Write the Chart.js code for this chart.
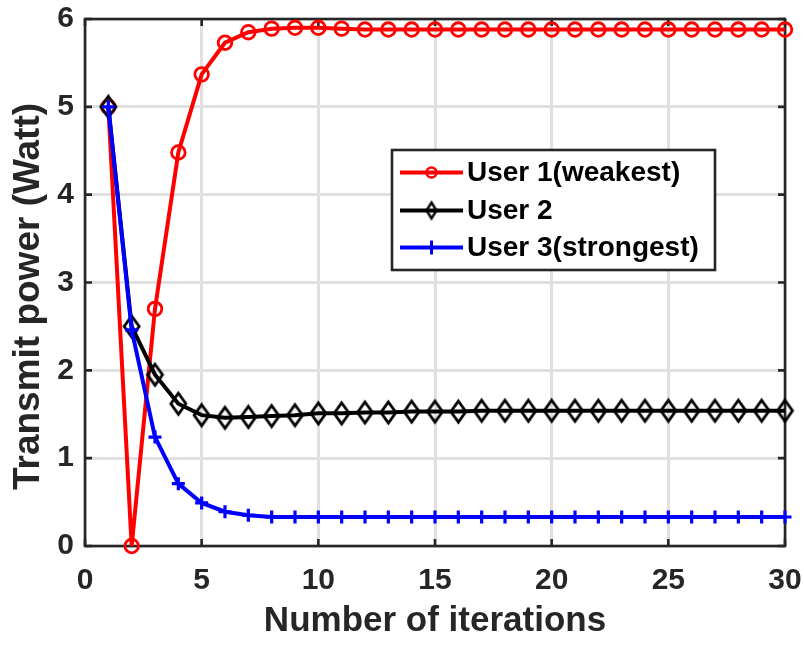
<!DOCTYPE html>
<html>
<head>
<meta charset="utf-8">
<script src="https://cdn.jsdelivr.net/npm/chart.js@4.4.1/dist/chart.umd.min.js"></script>
<style>
  html, body { margin: 0; padding: 0; background: #ffffff; }
  #wrap { width: 804px; height: 645px; }
</style>
</head>
<body>
<div id="wrap"><canvas id="c" width="804" height="645"></canvas></div>
<script>
// Transmit power per user over the iterations of the power-allocation algorithm
const iterations = Array.from({ length: 30 }, (_, i) => i + 1);

const user1Power = [5.00, 0.00, 2.70, 4.48, 5.37, 5.73, 5.85, 5.89, 5.90, 5.90,
                    5.89, 5.88, 5.88, 5.88, 5.88, 5.88, 5.88, 5.88, 5.88, 5.88,
                    5.88, 5.88, 5.88, 5.88, 5.88, 5.88, 5.88, 5.88, 5.88, 5.88];
const user2Power = [5.00, 2.50, 1.95, 1.62, 1.49, 1.46, 1.47, 1.48, 1.49, 1.51,
                    1.51, 1.52, 1.52, 1.53, 1.53, 1.53, 1.54, 1.54, 1.54, 1.54,
                    1.54, 1.54, 1.54, 1.54, 1.54, 1.54, 1.54, 1.54, 1.54, 1.54];
const user3Power = [5.00, 2.46, 1.24, 0.71, 0.49, 0.39, 0.35, 0.33, 0.33, 0.33,
                    0.33, 0.33, 0.33, 0.33, 0.33, 0.33, 0.33, 0.33, 0.33, 0.33,
                    0.33, 0.33, 0.33, 0.33, 0.33, 0.33, 0.33, 0.33, 0.33, 0.33];

const seriesLabels = ['User 1(weakest)', 'User 2', 'User 3(strongest)'];
const xTicks = [0, 5, 10, 15, 20, 25, 30];
const yTicks = [0, 1, 2, 3, 4, 5, 6];
const xTitle = 'Number of iterations';
const yTitle = 'Transmit power (Watt)';

const FONT = '"Liberation Sans", Arial, Helvetica, sans-serif';
const AXIS_COLOR = '#262626';
const GRID_COLOR = '#e0e0e0';

// Tall open diamond marker
function makeDiamond(w, h, lw) {
  const c = document.createElement('canvas');
  const pad = Math.ceil(lw);
  c.width = w + pad * 2;
  c.height = h + pad * 2;
  const g = c.getContext('2d');
  g.strokeStyle = '#000000';
  g.lineWidth = lw;
  g.lineJoin = 'miter';
  const cx = c.width / 2, cy = c.height / 2;
  g.beginPath();
  g.moveTo(cx, cy - h / 2);
  g.lineTo(cx + w / 2, cy);
  g.lineTo(cx, cy + h / 2);
  g.lineTo(cx - w / 2, cy);
  g.closePath();
  g.stroke();
  return c;
}
const diamond = makeDiamond(15, 21, 2.8);
const diamondSmall = makeDiamond(10, 16, 2.4);

const toXY = ys => iterations.map((x, i) => ({ x, y: ys[i] }));

// Box round the axes with inward tick marks on all four sides, plus the y-axis title
const axesBox = {
  id: 'axesBox',
  beforeDatasetsDraw(chart) {
    const { ctx, chartArea: a, scales } = chart;
    ctx.save();
    ctx.strokeStyle = AXIS_COLOR;
    ctx.lineWidth = 2.6;
    const tl = 7;
    ctx.beginPath();
    xTicks.forEach(v => {
      const px = scales.x.getPixelForValue(v);
      ctx.moveTo(px, a.bottom); ctx.lineTo(px, a.bottom - tl);
      ctx.moveTo(px, a.top); ctx.lineTo(px, a.top + tl);
    });
    yTicks.forEach(v => {
      const py = scales.y.getPixelForValue(v);
      ctx.moveTo(a.left, py); ctx.lineTo(a.left + tl, py);
      ctx.moveTo(a.right, py); ctx.lineTo(a.right - tl, py);
    });
    ctx.stroke();
    ctx.lineJoin = 'miter';
    ctx.strokeRect(a.left, a.top, a.right - a.left, a.bottom - a.top);

    // vertical axis title
    ctx.translate(28.5, (a.top + a.bottom) / 2 + 14);
    ctx.rotate(-Math.PI / 2);
    ctx.fillStyle = AXIS_COLOR;
    ctx.font = 'bold 37px ' + FONT;
    ctx.textAlign = 'center';
    ctx.textBaseline = 'middle';
    ctx.fillText(yTitle, 0, 0);
    ctx.restore();
  }
};

// Boxed legend inside the plot
const boxLegend = {
  id: 'boxLegend',
  afterDatasetsDraw(chart) {
    const { ctx, chartArea: a } = chart;
    const bx = a.left + 307, by = a.top + 131, bw = 323, bh = 120;
    ctx.save();
    ctx.fillStyle = '#ffffff';
    ctx.fillRect(bx, by, bw, bh);
    ctx.strokeStyle = AXIS_COLOR;
    ctx.lineWidth = 2.6;
    ctx.strokeRect(bx, by, bw, bh);
    const rowY = [by + 22.5, by + 60.5, by + 97.5];
    chart.data.datasets.forEach((ds, i) => {
      const y = rowY[i];
      const x0 = bx + 8, x1 = bx + 71, xm = (x0 + x1) / 2;
      ctx.strokeStyle = ds.borderColor;
      ctx.lineWidth = ds.borderWidth;
      ctx.beginPath(); ctx.moveTo(x0, y); ctx.lineTo(x1, y); ctx.stroke();
      ctx.lineWidth = 2.4;
      if (ds.pointStyle === 'circle') {
        ctx.beginPath(); ctx.arc(xm, y, 5, 0, Math.PI * 2); ctx.stroke();
      } else if (ds.pointStyle === 'cross') {
        ctx.lineWidth = 3;
        ctx.beginPath(); ctx.moveTo(xm, y - 7); ctx.lineTo(xm, y + 7);
        ctx.moveTo(xm - 6, y); ctx.lineTo(xm + 6, y); ctx.stroke();
      } else {
        ctx.drawImage(diamondSmall, xm - diamondSmall.width / 2, y - diamondSmall.height / 2);
      }
      ctx.fillStyle = '#000000';
      ctx.font = 'bold 28px ' + FONT;
      ctx.textBaseline = 'middle';
      ctx.textAlign = 'left';
      ctx.fillText(ds.label, bx + 75, y + 1);
    });
    ctx.restore();
  }
};

new Chart(document.getElementById('c'), {
  type: 'line',
  data: {
    datasets: [
      {
        label: seriesLabels[0], data: toXY(user1Power), order: 3,
        borderColor: '#ff0000', borderWidth: 4, pointStyle: 'circle',
        pointRadius: 6.8, pointBorderWidth: 2.8, pointBackgroundColor: 'rgba(0,0,0,0)',
        pointBorderColor: '#ff0000', tension: 0, clip: false
      },
      {
        label: seriesLabels[1], data: toXY(user2Power), order: 2,
        borderColor: '#000000', borderWidth: 4, pointStyle: diamond,
        pointRadius: 8, pointBackgroundColor: 'rgba(0,0,0,0)',
        pointBorderColor: '#000000', tension: 0, clip: false
      },
      {
        label: seriesLabels[2], data: toXY(user3Power), order: 1,
        borderColor: '#0000ff', borderWidth: 4, pointStyle: 'cross',
        pointRadius: 6.5, pointBorderWidth: 3.2, pointBackgroundColor: '#0000ff',
        pointBorderColor: '#0000ff', tension: 0, clip: false
      }
    ]
  },
  options: {
    responsive: false,
    animation: false,
    devicePixelRatio: 1,
    layout: { padding: { top: 19, right: 19, left: 0, bottom: 0 } },
    plugins: { legend: { display: false }, tooltip: { enabled: false } },
    scales: {
      x: {
        type: 'linear', min: 0, max: 30,
        afterBuildTicks(s) { s.ticks = xTicks.map(v => ({ value: v })); },
        afterFit(s) { s.height = 99; s.paddingLeft = 0; s.paddingRight = 0; },
        ticks: { color: AXIS_COLOR, padding: 17, maxRotation: 0,
                 font: { family: FONT, size: 30, weight: 'bold' } },
        grid: { color: GRID_COLOR, lineWidth: 3, drawTicks: false },
        border: { display: false },
        title: { display: true, text: xTitle, color: AXIS_COLOR,
                 padding: { top: 0, bottom: 3 },
                 font: { family: FONT, size: 35, weight: 'bold', lineHeight: 1.2 } }
      },
      y: {
        min: 0, max: 6,
        afterBuildTicks(s) { s.ticks = yTicks.map(v => ({ value: v })); },
        afterFit(s) { s.width = 85; s.paddingTop = 0; s.paddingBottom = 0; },
        ticks: { color: AXIS_COLOR, padding: 11,
                 font: { family: FONT, size: 30, weight: 'bold' } },
        grid: { color: GRID_COLOR, lineWidth: 3, drawTicks: false },
        border: { display: false },
        title: { display: false }
      }
    }
  },
  plugins: [axesBox, boxLegend]
});
</script>
</body>
</html>
